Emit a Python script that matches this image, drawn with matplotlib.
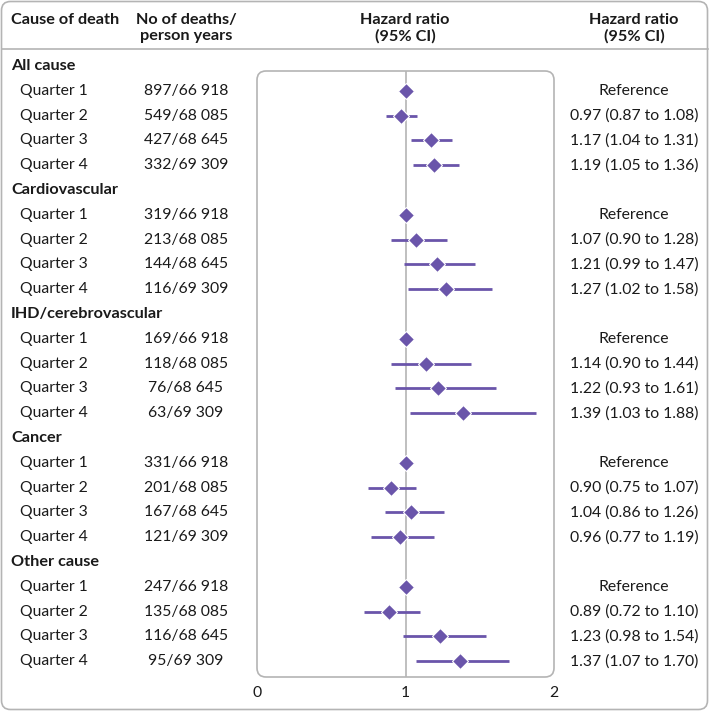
import matplotlib
matplotlib.use("Agg")
import matplotlib.pyplot as plt
from matplotlib.patches import FancyBboxPatch

causes = ["All cause", "Cardiovascular", "IHD/cerebrovascular", "Cancer", "Other cause"]
quarters = ["Quarter 1", "Quarter 2", "Quarter 3", "Quarter 4"]
deaths = [
    ["897/66 918", "549/68 085", "427/68 645", "332/69 309"],
    ["319/66 918", "213/68 085", "144/68 645", "116/69 309"],
    ["169/66 918", "118/68 085", "76/68 645", "63/69 309"],
    ["331/66 918", "201/68 085", "167/68 645", "121/69 309"],
    ["247/66 918", "135/68 085", "116/68 645", "95/69 309"],
]
hr = [
    [1.00, 0.97, 1.17, 1.19],
    [1.00, 1.07, 1.21, 1.27],
    [1.00, 1.14, 1.22, 1.39],
    [1.00, 0.90, 1.04, 0.96],
    [1.00, 0.89, 1.23, 1.37],
]
lo = [
    [None, 0.87, 1.04, 1.05],
    [None, 0.90, 0.99, 1.02],
    [None, 0.90, 0.93, 1.03],
    [None, 0.75, 0.86, 0.77],
    [None, 0.72, 0.98, 1.07],
]
hi = [
    [None, 1.08, 1.31, 1.36],
    [None, 1.28, 1.47, 1.58],
    [None, 1.44, 1.61, 1.88],
    [None, 1.07, 1.26, 1.19],
    [None, 1.10, 1.54, 1.70],
]
xticks = [0, 1, 2]

PURPLE = "#6a55aa"
GRAY = "#b4b4b4"
TXT = "#1a1a1a"
FONT = "Lato"
FS = 11.3
FSB = 11.7

W, H = 709, 711
fig = plt.figure(figsize=(W / 100, H / 100), dpi=100)
bg = fig.add_axes([0, 0, 1, 1])
bg.set_xlim(0, W)
bg.set_ylim(H, 0)
bg.axis("off")

# outer frame
bg.add_patch(FancyBboxPatch((1.5, 1.5), W - 3, H - 3,
                            boxstyle="round,pad=0,rounding_size=9",
                            fc="none", ec=GRAY, lw=1.2))
bg.plot([1.5, W - 1.5], [49, 49], color=GRAY, lw=1.2)

kw = dict(family=FONT, color=TXT)
hkw = dict(family=FONT, color=TXT, fontsize=FSB, fontweight="bold")
bg.text(11, 20, "Cause of death", ha="left", va="center", **hkw)
for xc, (l1, l2) in [(186, ("No of deaths/", "person years")),
                     (405, ("Hazard ratio", "(95% CI)")),
                     (634, ("Hazard ratio", "(95% CI)"))]:
    bg.text(xc, 20, l1, ha="center", va="center", **hkw)
    bg.text(xc, 36, l2, ha="center", va="center", **hkw)

top_px, bot_px = 71, 677
left_px, right_px = 257, 554
bg.add_patch(FancyBboxPatch((left_px, top_px), right_px - left_px, bot_px - top_px,
                            boxstyle="round,pad=0,rounding_size=9",
                            fc="none", ec=GRAY, lw=1.2))

ax = fig.add_axes([left_px / W, 1 - bot_px / H, (right_px - left_px) / W, (bot_px - top_px) / H])
ax.set_xlim(0, 2)
ax.set_ylim(bot_px, top_px)
ax.axis("off")
ax.patch.set_alpha(0)
ax.plot([1, 1], [top_px, bot_px], color=GRAY, lw=1.2, zorder=1)

y0, pitch = 66, 24.8
row = 0
for c, cause in enumerate(causes):
    yc = y0 + pitch * row
    bg.text(11, yc, cause, ha="left", va="center", **hkw)
    row += 1
    for q in range(4):
        y = y0 + pitch * row
        bg.text(20, y, quarters[q], ha="left", va="center", fontsize=FS, **kw)
        bg.text(186, y, deaths[c][q], ha="center", va="center", fontsize=FS, **kw)
        if lo[c][q] is None:
            label = "Reference"
        else:
            label = f"{hr[c][q]:.2f} ({lo[c][q]:.2f} to {hi[c][q]:.2f})"
            ax.plot([lo[c][q], hi[c][q]], [y, y], color=PURPLE, lw=2, zorder=2,
                    solid_capstyle="butt")
        ax.plot([hr[c][q]], [y], marker="D", ms=8.5, color=PURPLE, mec="white",
                mew=0.8, zorder=3)
        bg.text(634, y, label, ha="center", va="center", fontsize=FS, **kw)
        row += 1

for t in xticks:
    xp = left_px + (right_px - left_px) * t / 2
    bg.text(xp, 693, str(t), ha="center", va="center", fontsize=FS, **kw)

fig.savefig("out.png", dpi=100)
